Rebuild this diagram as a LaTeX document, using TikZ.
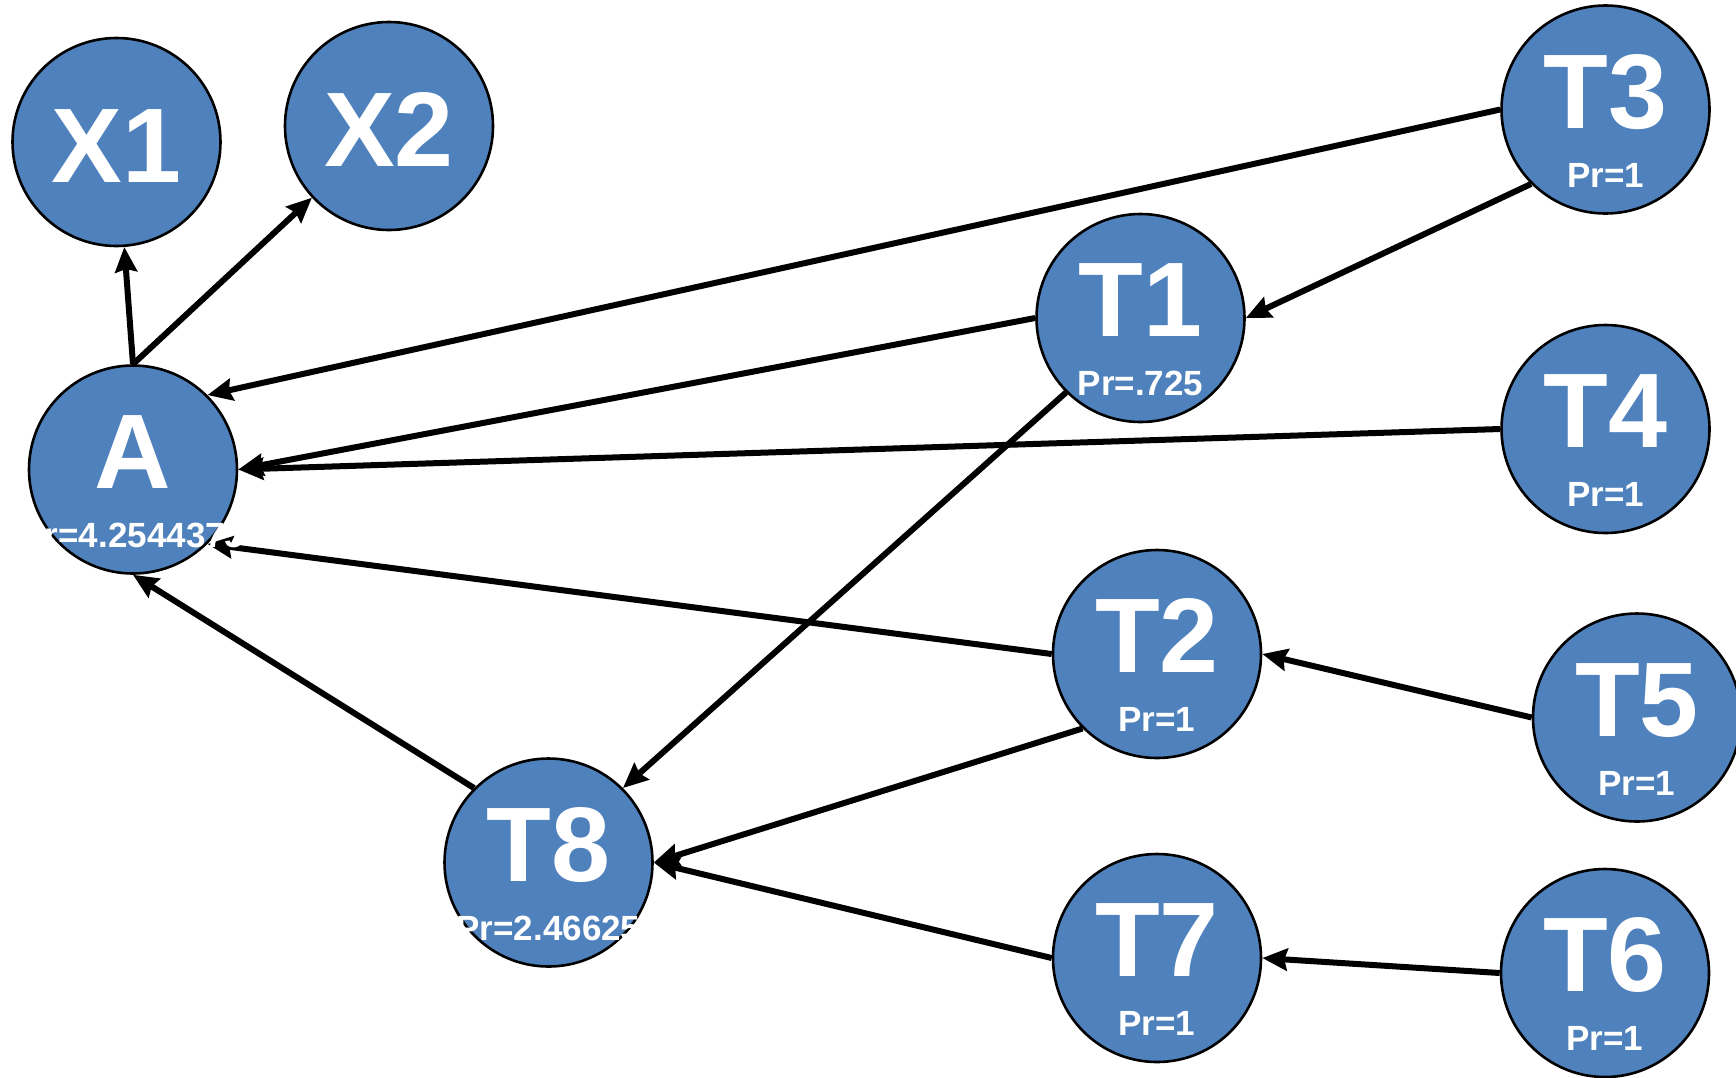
\documentclass[tikz,border=0pt]{standalone}
\usepackage{fontspec}
\setmainfont{Liberation Sans}
\usetikzlibrary{arrows.meta,calc}

\definecolor{nodeblue}{HTML}{4F81BD}

\tikzset{
  vert/.style={circle, fill=nodeblue, draw=black, line width=2.6pt,
               minimum size=208pt, inner sep=0pt},
  bigtxt/.style={anchor=base, inner sep=0pt, text=white,
                 font=\fontsize{106}{106}\selectfont\bfseries},
  prtxt/.style={anchor=base, inner sep=0pt, text=white,
                font=\fontsize{35}{35}\selectfont\bfseries},
  link/.style={line width=6pt, -{Stealth[length=25pt,width=22pt,inset=3pt]}},
}

\begin{document}
\begin{tikzpicture}[x=1pt,y=-1pt]
  \useasboundingbox (0,0) rectangle (1736,1077);
  \clip (0,0) rectangle (1736,1077);

  % vertices
  \node[vert] (X1) at (116.5,142) {};
  \node[vert] (X2) at (389,126) {};
  \node[vert] (A)  at (133,469.5) {};
  \node[vert] (T1) at (1140.5,318) {};
  \node[vert] (T2) at (1157,654) {};
  \node[vert] (T3) at (1605.5,109.5) {};
  \node[vert] (T4) at (1605.5,429) {};
  \node[vert] (T5) at (1637,717.5) {};
  \node[vert] (T6) at (1605,973) {};
  \node[vert] (T7) at (1157,958) {};
  \node[vert] (T8) at (548.5,862.5) {};

  % links
  \draw[link] (A.north) -- (X1);
  \draw[link] (A.north) -- (X2);
  \draw[link] (T3.west) -- (A.45);
  \draw[link] (T3.south west) -- (T1.east);
  \draw[link] (T1.west) -- (A.east);
  \draw[link] (T4.west) -- (A.east);
  \draw[link] (T1.south west) -- (T8.north east);
  \draw[link] (T2.west) -- (A.south east);
  \draw[link] (T8.north west) -- (A.south);
  \draw[link] (T5.west) -- (T2.east);
  \draw[link] (T2.south west) -- (T8.east);
  \draw[link] (T7.west) -- (T8.east);
  \draw[link] (T6.west) -- (T7.east);

  % names
  \node[bigtxt] (X1-name) at ($(X1)+(0,40)$) {X1};
  \node[bigtxt] (X2-name) at ($(X2)+(0,40)$) {X2};
  \foreach \v in {A,T1,T2,T3,T4,T5,T6,T7,T8}
    \node[bigtxt] (\v-name) at ($(\v)+(0,18.5)$) {\v};

  % scores
  \node[prtxt] (A-pr)  at ($(A)+(0,78)$)  {Pr=4.2544375};
  \node[prtxt] (T8-pr) at ($(T8)+(0,77.5)$) {Pr=2.46625};
  \node[prtxt] (T1-pr) at ($(T1)+(0,77.5)$) {Pr=.725};
  \foreach \v in {T2,T3,T4,T5,T6,T7}
    \node[prtxt] (\v-pr) at ($(\v)+(0,77.5)$) {Pr=1};
\end{tikzpicture}
\end{document}
